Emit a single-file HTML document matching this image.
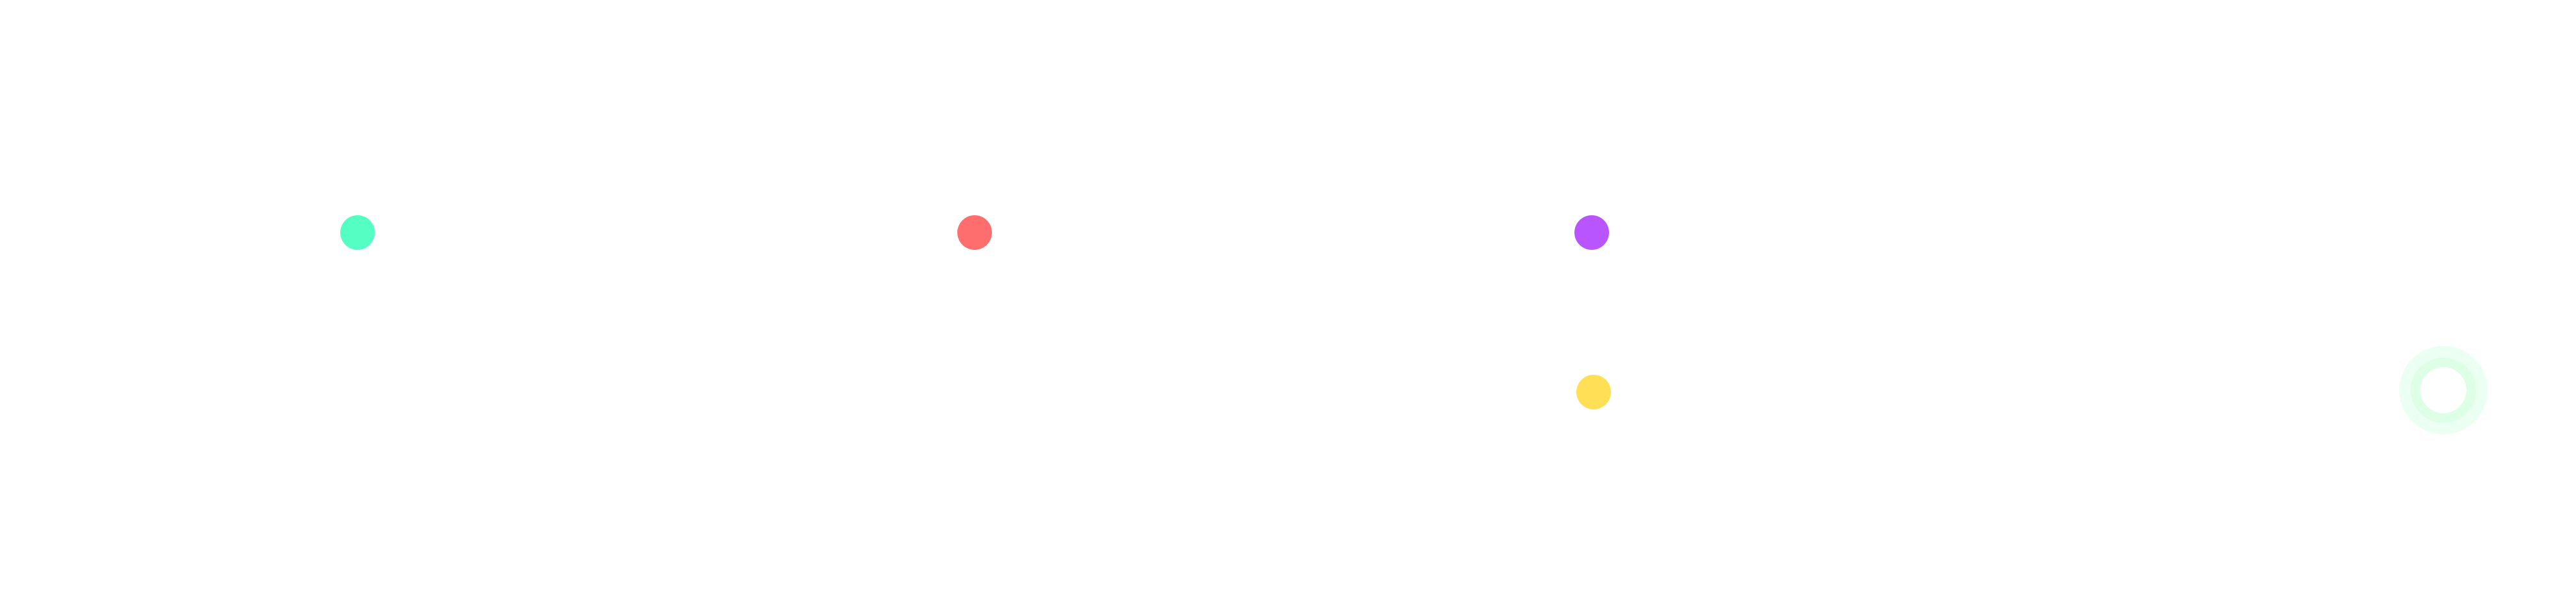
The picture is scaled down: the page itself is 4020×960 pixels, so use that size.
<!DOCTYPE html>
<html><head><meta charset="utf-8"><style>html,body{margin:0;padding:0;background:#fff;width:4020px;height:960px;overflow:hidden}</style></head>
<body>
<svg width="4020" height="960" viewBox="0 0 4020 960" xmlns="http://www.w3.org/2000/svg">
<rect width="4020" height="960" fill="#fff"/>
<circle cx="558" cy="363" r="27" fill="#55ffc4"/>
<circle cx="1521" cy="363" r="27" fill="#ff6e6e"/>
<circle cx="2484" cy="363" r="27" fill="#b855ff"/>
<circle cx="2487" cy="612" r="27" fill="#ffdf55"/>
<circle cx="3813" cy="609" r="69" fill="#ebfff2"/>
<circle cx="3813" cy="609" r="51" fill="#dcffe6"/>
<circle cx="3813" cy="609" r="36" fill="#fff"/>
</svg>
</body></html>
